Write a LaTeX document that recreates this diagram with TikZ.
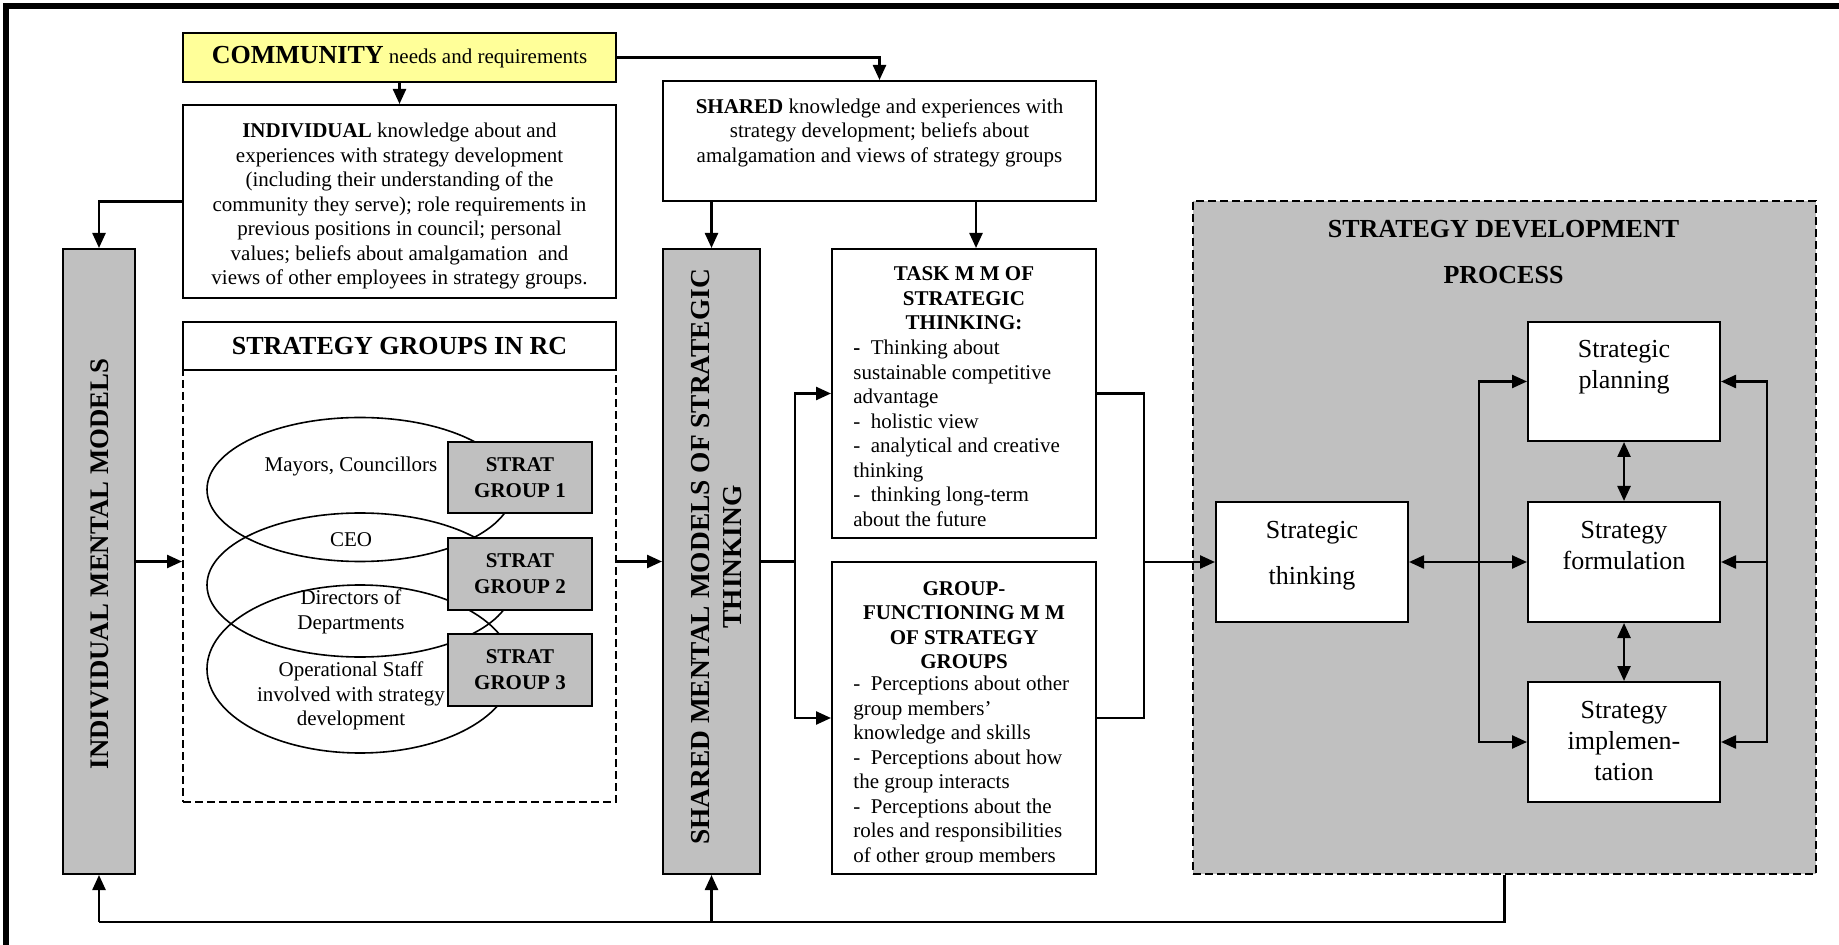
\documentclass[tikz,border=0pt]{standalone}
\usepackage{fontspec}
\setmainfont{Liberation Serif}
\usetikzlibrary{arrows.meta,shapes.geometric}
\definecolor{silv}{RGB}{192,192,192}
\definecolor{lyel}{RGB}{255,255,153}
\begin{document}
\begin{tikzpicture}[x=0.5pt,y=-0.5pt,
  box/.style={draw, line width=1pt, fill=white, inner sep=0pt},
  gbox/.style={draw, line width=1pt, fill=silv, inner sep=0pt},
  arr/.style={line width=1.2pt, -{Triangle[length=7.5pt,width=6.5pt]}},
  arrb/.style={line width=1.2pt, {Triangle[length=7.5pt,width=6.5pt]}-{Triangle[length=7.5pt,width=6.5pt]}},
  ln/.style={line width=1.2pt},
  txt/.style={inner sep=0pt, font=\fontsize{10.5}{12.25}\selectfont},
  btxt/.style={inner sep=0pt, font=\fontsize{10.5}{12.25}\selectfont\bfseries},
  big/.style={inner sep=0pt, font=\fontsize{13}{15.5}\selectfont},
  ell/.style={ellipse, draw, line width=0.8pt, inner sep=0pt, minimum width=153pt},
  dashln/.style={dash pattern=on 4pt off 2pt}
]
\useasboundingbox (0,0) rectangle (1839,945);
\fill[white] (0,0) rectangle (1839,945);
\draw[line width=3pt] (6,945) -- (6,6) -- (1839,6);

% ---------- left column ----------
\node[box, fill=lyel, minimum width=216.5pt, minimum height=24.5pt] (comm) at (399.5,57.5)
  {\fontsize{13}{15}\selectfont\bfseries COMMUNITY\fontsize{10.5}{12}\selectfont\mdseries\ needs and requirements};
\node[box, minimum width=216.5pt, minimum height=96.5pt] (indiv) at (399.5,201.5) {};
\node[txt, align=center] (indivt) at (399.5,206)
  {\textbf{INDIVIDUAL} knowledge about and\\ experiences with strategy development\\ (including their understanding of the\\ community they serve); role requirements in\\ previous positions in council; personal\\ values; beliefs about amalgamation\ \ and\\ views of other employees in strategy groups.};
\node[box, minimum width=216.5pt, minimum height=24pt, font=\fontsize{13}{15}\selectfont\bfseries] (sgtitle) at (399.5,346) {STRATEGY GROUPS IN RC};
\node[draw, dashln, line width=1pt, inner sep=0pt, minimum width=216.5pt, minimum height=216pt] (sgbox) at (399.5,586) {};

% ellipses
\node[ell, minimum height=72pt] (e1) at (360,489.5) {};
\node[ell, minimum height=72pt] (e2) at (360,585) {};
\node[ell, minimum height=84pt] (e3) at (360,669) {};
\node[txt] (mayors) at (351,466) {Mayors, Councillors};
\node[txt] (ceo) at (351,540) {CEO};
\node[txt, align=center] (dirs) at (351,612) {Directors of\\Departments};
\node[txt, align=center] (ops) at (351,696) {Operational Staff\\involved with strategy\\development};

\node[gbox, minimum width=72pt, minimum height=35.5pt, align=center, font=\fontsize{10.5}{13}\selectfont\bfseries] (sg1) at (520,477.5) {STRAT\\GROUP 1};
\node[gbox, minimum width=72pt, minimum height=36pt, align=center, font=\fontsize{10.5}{13}\selectfont\bfseries] (sg2) at (520,574) {STRAT\\GROUP 2};
\node[gbox, minimum width=72pt, minimum height=36pt, align=center, font=\fontsize{10.5}{13}\selectfont\bfseries] (sg3) at (520,670) {STRAT\\GROUP 3};

% bars
\node[gbox, minimum width=36pt, minimum height=312.5pt] (imm) at (99,561.5) {};
\node[inner sep=0pt, rotate=90, font=\fontsize{13.4}{16}\selectfont\bfseries] (immt) at (100,564) {INDIVIDUAL MENTAL MODELS};
\node[gbox, minimum width=48.5pt, minimum height=312.5pt] (smm) at (711.5,561.5) {};
\node[inner sep=0pt, rotate=90, align=center, font=\fontsize{13.7}{16}\selectfont\bfseries] (smmt) at (717,557) {SHARED MENTAL MODELS OF STRATEGIC\\THINKING};

% ---------- middle column ----------
\node[box, minimum width=216.5pt, minimum height=60pt] (shared) at (879.5,141) {};
\node[txt, align=center, anchor=north] (sharedt) at (879.5,98.5)
  {\textbf{SHARED} knowledge and experiences with\\ strategy development; beliefs about\\ amalgamation and views of strategy groups};

\node[box, minimum width=132pt, minimum height=144.5pt] (task) at (964,393.5) {};
\node[btxt, align=center, anchor=north] (taskh) at (964,266.5) {TASK M M OF\\STRATEGIC\\THINKING:};
\node[txt, align=left, anchor=north west] (taskb) at (853,340)
  {\textbf{-}\ \ Thinking about\\ sustainable competitive\\ advantage\\ -\ \ holistic view\\ -\ \ analytical and creative\\ thinking\\ -\ \ thinking long-term\\ about the future};

\node[box, minimum width=132pt, minimum height=156pt] (group) at (964,718) {};
\node[btxt, align=center, anchor=north] (grouph) at (964,581) {GROUP-\\FUNCTIONING M M\\OF STRATEGY\\GROUPS};
\begin{scope}
\clip (832,562) rectangle (1096,862);
\node[txt, align=left, anchor=north west] (groupb) at (853,676)
  {-\ \ Perceptions about other\\ group members’\\ knowledge and skills\\ -\ \ Perceptions about how\\ the group interacts\\ -\ \ Perceptions about the\\ roles and responsibilities\\ of other group members};
\end{scope}

% ---------- process ----------
\node[draw, dashln, line width=1pt, fill=silv, inner sep=0pt, minimum width=311.5pt, minimum height=336.5pt] (proc) at (1504.5,537.5) {};
\node[inner sep=0pt, align=center, font=\fontsize{13}{23}\selectfont\bfseries] (proct) at (1503.5,252) {STRATEGY DEVELOPMENT\\PROCESS};

\node[box, minimum width=96pt, minimum height=60pt] (think) at (1312,562) {};
\node[box, minimum width=96pt, minimum height=59.5pt] (plan) at (1624,381.5) {};
\node[box, minimum width=96pt, minimum height=60pt] (form) at (1624,562) {};
\node[box, minimum width=96pt, minimum height=60pt] (impl) at (1624,742) {};
\node[big, align=center, anchor=north, font=\fontsize{13}{23}\selectfont] (thinkt) at (1312,521) {Strategic\\thinking};
\node[big, align=center, anchor=north] (plant) at (1624,340) {Strategic\\planning};
\node[big, align=center, anchor=north] (formt) at (1624,521) {Strategy\\formulation};
\node[big, align=center, anchor=north] (implt) at (1624,701) {Strategy\\implemen-\\tation};

% ---------- connectors ----------
\draw[arr] (comm.south) -- (indiv.north);
\draw[arr] (comm.east) -| (shared.north);
\draw[arr] (indiv.west) -| (imm.north);
\draw[arr] (smm.north |- shared.south) -- (smm.north);
\draw[arr] ([xshift=6pt]task.north |- shared.south) -- ([xshift=6pt]task.north);
\draw[arr] (imm.east) -- (imm.east -| sgbox.west);
\draw[arr] (sgbox.east |- smm.west) -- (smm.west);

\coordinate (sp) at (795,561.5);
\draw[ln] (smm.east) -- (sp);
\draw[arr] (sp) |- (task.west);
\draw[arr] (sp) |- (group.west);

\coordinate (jp) at (1144,562);
\draw[ln] (task.east) -| (jp) |- (group.east);
\draw[arr] (jp) -- (think.west);

\coordinate (lb) at (1479,562);
\draw[arrb] (think.east) -- (form.west);
\draw[arr] (lb) |- (plan.west);
\draw[arr] (lb) |- (impl.west);

\coordinate (rb) at (1767,562);
\draw[arr] (rb) |- (plan.east);
\draw[arr] (rb) -- (form.east);
\draw[arr] (rb) |- (impl.east);

\draw[arrb] (plan.south) -- (form.north);
\draw[arrb] (form.south) -- (impl.north);

\coordinate (fbr) at (1504.5,922);
\coordinate (fbl) at (99,922);
\draw[ln] (proc.south) -- (fbr) -- (fbl);
\draw[arr] (fbl) -- (imm.south);
\draw[arr] (smm.south |- fbl) -- (smm.south);
\end{tikzpicture}
\end{document}
